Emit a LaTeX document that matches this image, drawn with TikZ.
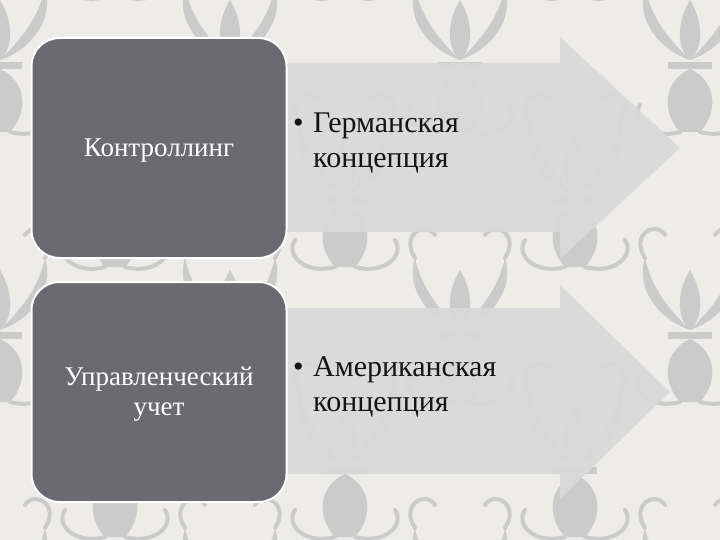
\documentclass[tikz,border=0pt]{standalone}
\usepackage{fontspec}
\setmainfont{Liberation Serif}
\definecolor{bgcol}{HTML}{EEECE9}
\definecolor{orncol}{HTML}{CBCBCB}
\definecolor{arrowcol}{HTML}{D9D9D9}
\definecolor{boxcol}{HTML}{6B6A70}
\definecolor{txtcol}{HTML}{141414}
\tikzset{
  x=1pt, y=-1pt,
  damask/.pic={
    \fill[orncol] (0,-60) .. controls (15,-35) and (12,-10) .. (0,0) .. controls (-12,-10) and (-15,-35) .. (0,-60) -- cycle;
    \fill[orncol] (0,0) .. controls (30,-10) and (55,-40) .. (45,-72) .. controls (38,-40) and (20,-20) .. (0,0) -- cycle;
    \fill[orncol] (0,0) .. controls (-30,-10) and (-55,-40) .. (-45,-72) .. controls (-38,-40) and (-20,-20) .. (0,0) -- cycle;
    \fill[orncol] (-22,2) rectangle (22,9);
    \fill[orncol] (0,9) .. controls (25,20) and (30,50) .. (10,72) -- (-10,72) .. controls (-30,50) and (-25,20) .. (0,9) -- cycle;
    \draw[orncol, line width=4pt, line cap=round] (45,-72) .. controls (60,-95) and (35,-110) .. (25,-95);
    \draw[orncol, line width=4pt, line cap=round] (-45,-72) .. controls (-60,-95) and (-35,-110) .. (-25,-95);
    \draw[orncol, line width=4pt, line cap=round] (10,72) .. controls (40,80) and (60,60) .. (50,45);
    \draw[orncol, line width=4pt, line cap=round] (-10,72) .. controls (-40,80) and (-60,60) .. (-50,45);
  },
  arrowshape/.style={fill=arrowcol, fill opacity=0.93},
  darkbox/.style={fill=boxcol, draw=white, line width=2pt, rounded corners=28pt},
  boxtext/.style={text=white, font=\fontsize{27}{30}\selectfont, inner sep=0pt, align=center},
  bullettext/.style={text=txtcol, font=\fontsize{30}{35}\selectfont, inner sep=0pt, align=left},
}
\begin{document}
\begin{tikzpicture}
\useasboundingbox (0,0) rectangle (720,540);
\fill[bgcol] (0,0) rectangle (720,540);
\begin{scope}
\clip (0,0) rectangle (720,540);
\foreach \px in {0,230,460,690} {
  \foreach \py in {60,330,600} {
    \pic at (\px,\py) {damask};
  }
}
\foreach \px in {115,345,575} {
  \foreach \py in {-75,195,465} {
    \pic at (\px,\py) {damask};
  }
}
\end{scope}
% arrows
\fill[arrowshape] (200,63) -- (560,63) -- (560,37) -- (680,148) -- (560,259) -- (560,232) -- (200,232) -- cycle;
\fill[arrowshape] (200,308) -- (560,308) -- (560,285) -- (670,392) -- (560,499) -- (560,474) -- (200,474) -- cycle;
% boxes
\draw[darkbox] (31.5,38) rectangle (286.5,258);
\draw[darkbox] (31.5,282) rectangle (286.5,502);
% texts
\node[boxtext, anchor=base] (t1) at (159,157) {Контроллинг};
\node[boxtext, anchor=north] (t2) at (159,366.5) {Управленческий\\учет};
\node[bullettext, anchor=north west] (b1) at (293,113) {\makebox[20pt][l]{•}Германская\\\hspace*{20pt}концепция};
\node[bullettext, anchor=north west] (b2) at (293,356) {\makebox[20pt][l]{•}Американская\\\hspace*{20pt}концепция};
\end{tikzpicture}
\end{document}
